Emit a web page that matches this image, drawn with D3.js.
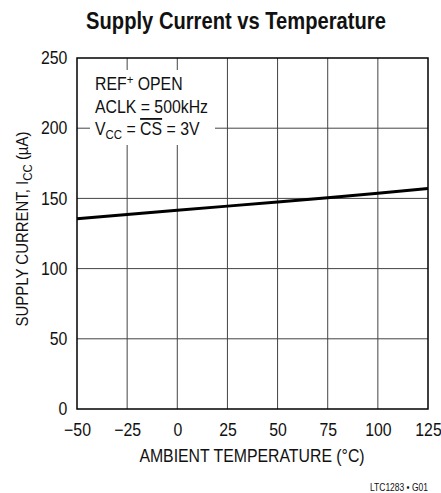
<!DOCTYPE html>
<html><head><meta charset="utf-8">
<script src="https://cdn.jsdelivr.net/npm/d3@7"></script>
<style>
body{margin:0;background:#fff;}
text{font-family:"Liberation Sans","Arial",sans-serif;fill:#111;}
</style></head>
<body><svg id="c" width="441" height="493"></svg>
<script>
const temps = [-50, -25, 0, 25, 50, 75, 100, 125];
const current = [135.5, 138.5, 141.5, 144.5, 147.5, 150.5, 153.7, 157];
const xTicks = [-50, -25, 0, 25, 50, 75, 100, 125];
const yTicks = [0, 50, 100, 150, 200, 250];

const svg = d3.select("#c");
const L = 77, R = 428, T = 58, B = 409;
const x = d3.scaleLinear().domain([-50, 125]).range([L, R]);
const y = d3.scaleLinear().domain([0, 250]).range([B, T]);

function txt(parent, px, py, sx, size) {
  return parent.append("text")
    .attr("transform", `translate(${px},${py}) scale(${sx},1)`)
    .style("font-size", size + "px");
}

// title
txt(svg, 236, 29, 0.84, 24).attr("text-anchor", "middle")
  .style("font-weight", "bold").text("Supply Current vs Temperature");

// grid
const g = svg.append("g");
g.selectAll(".vx").data(xTicks.slice(1, -1)).join("line")
  .attr("x1", d => x(d)).attr("x2", d => x(d)).attr("y1", T).attr("y2", B)
  .attr("stroke", "#444").attr("stroke-width", 1);
g.selectAll(".hy").data(yTicks.slice(1, -1)).join("line")
  .attr("x1", L).attr("x2", R).attr("y1", d => y(d)).attr("y2", d => y(d))
  .attr("stroke", "#444").attr("stroke-width", 1);

// annotation background
svg.append("rect").attr("x", 90).attr("y", 70).attr("width", 125).attr("height", 75).attr("fill", "#fff");

// frame
svg.append("rect").attr("x", L).attr("y", T).attr("width", R - L).attr("height", B - T)
  .attr("fill", "none").attr("stroke", "#000").attr("stroke-width", 1.5);

// line
svg.append("path").datum(temps.map((t, i) => [t, current[i]]))
  .attr("d", d3.line().x(d => x(d[0])).y(d => y(d[1])))
  .attr("fill", "none").attr("stroke", "#000").attr("stroke-width", 3);

// axes labels
const xa = d3.axisBottom(x).tickValues(xTicks).tickSize(0).tickPadding(14)
  .tickFormat(d => d < 0 ? "\u2212" + Math.abs(d) : d);
svg.append("g").attr("transform", `translate(0,${B})`).call(xa)
  .call(s => s.select(".domain").remove())
  .selectAll("text").style("font-size", "18px").attr("fill", "#111")
  .attr("transform", "scale(0.88,1)");
const ya = d3.axisLeft(y).tickValues(yTicks).tickSize(0).tickPadding(11)
  .tickFormat(d => d);
svg.append("g").attr("transform", `translate(${L},0)`).call(ya)
  .call(s => s.select(".domain").remove())
  .selectAll("text").style("font-size", "18px").attr("fill", "#111")
  .attr("transform", "scale(0.88,1)");

// x title
txt(svg, 252, 462, 0.88, 18).attr("text-anchor", "middle")
  .text("AMBIENT TEMPERATURE (\u00B0C)");

// y title
const yt = svg.append("text").attr("transform", "translate(28,229) rotate(-90) scale(0.88,1)")
  .attr("text-anchor", "middle").style("font-size", "17px");
yt.append("tspan").text("SUPPLY CURRENT, I");
yt.append("tspan").attr("dy", 4).style("font-size", "13px").text("CC");
yt.append("tspan").attr("dy", -4).text(" (\u00B5A)");

// annotation
const ann = svg.append("g");
const a1 = txt(ann, 95, 90, 0.88, 18);
a1.append("tspan").text("REF");
a1.append("tspan").attr("dy", -6).style("font-size", "13px").text("+");
a1.append("tspan").attr("dy", 6).text(" OPEN");
txt(ann, 95, 113, 0.88, 18).text("ACLK = 500kHz");
const a3 = txt(ann, 95, 135, 0.88, 18);
a3.append("tspan").text("V");
a3.append("tspan").attr("dy", 4).style("font-size", "13px").text("CC");
a3.append("tspan").attr("dy", -4).text(" = ");
a3.append("tspan").style("text-decoration", "overline").text("CS");
a3.append("tspan").text(" = 3V");

// footer
txt(svg, 428, 491, 0.85, 10).attr("text-anchor", "end").text("LTC1283 \u2022 G01");
</script></body></html>
